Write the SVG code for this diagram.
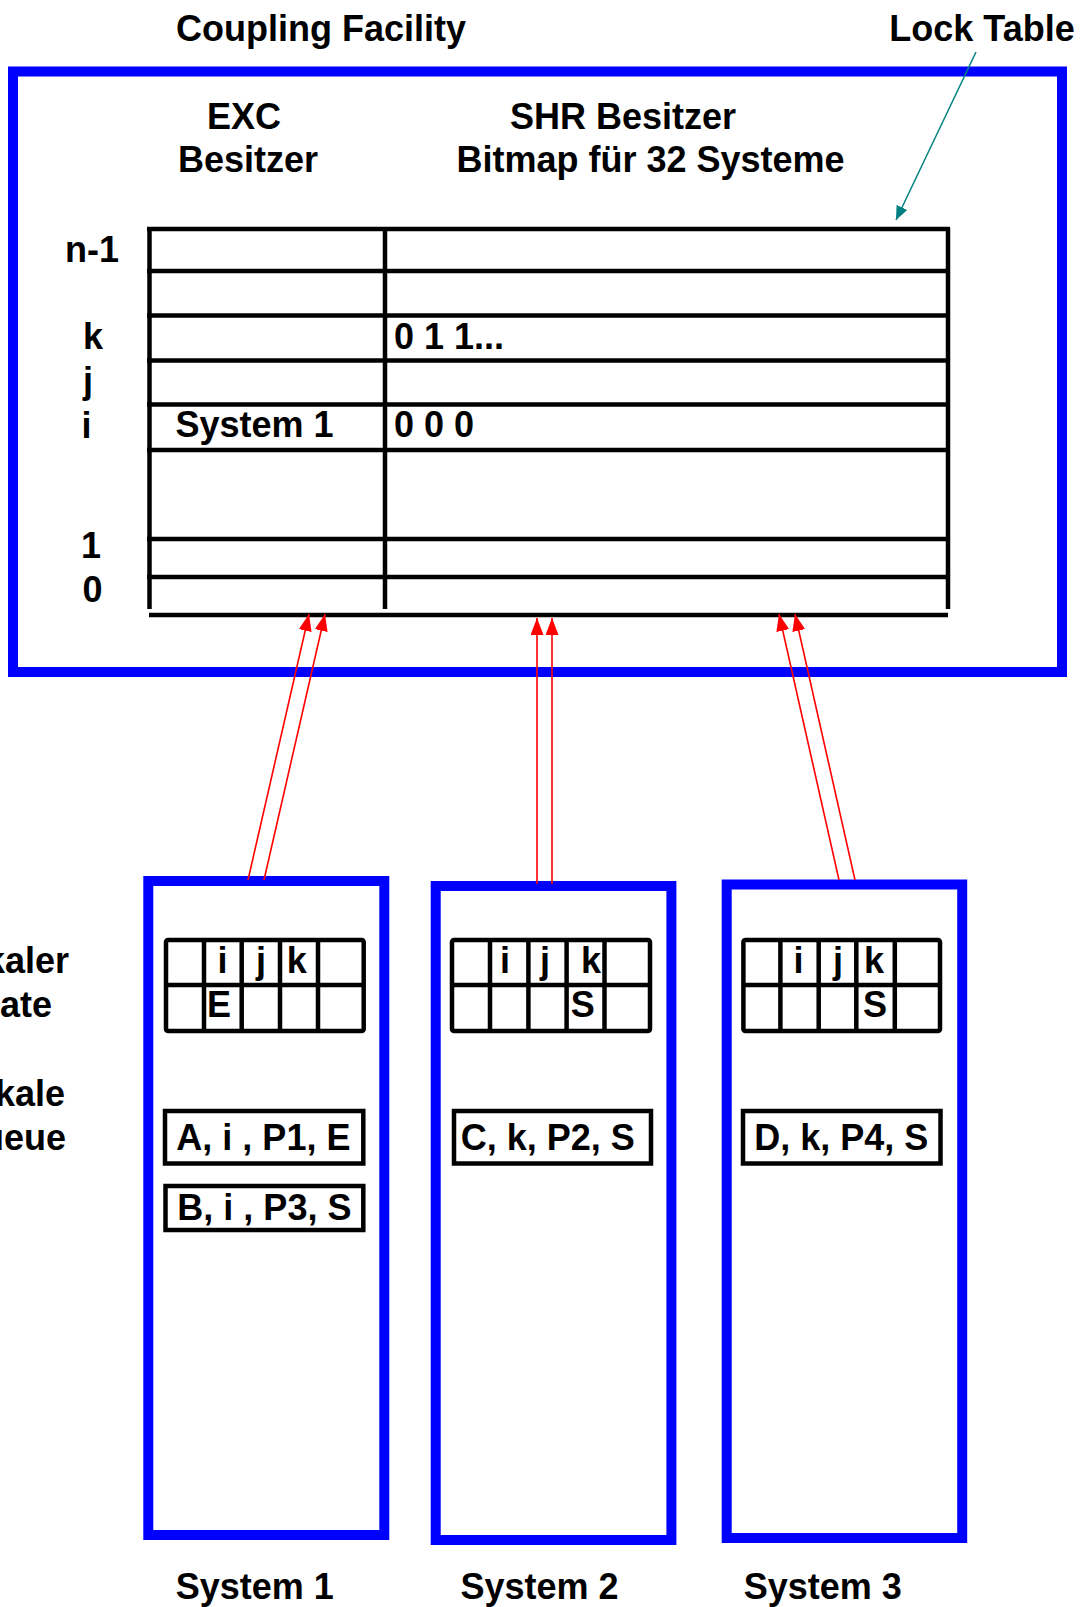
<svg xmlns="http://www.w3.org/2000/svg" width="1085" height="1607" viewBox="0 0 1085 1607">
<style>
text{font-family:"Liberation Sans",Arial,sans-serif;font-weight:bold;font-size:36px;fill:#000}
.m{text-anchor:middle}
.e{text-anchor:end}
.blue{fill:none;stroke:#0000ff;stroke-width:10}
.tl{stroke:#000;stroke-width:4.5;fill:none}
.red{stroke:#ff0000;stroke-width:1.6;fill:none}
.teal{stroke:#008080;stroke-width:1.5;fill:none}
</style>
<defs>
<marker id="ar" markerUnits="userSpaceOnUse" markerWidth="17" markerHeight="13" refX="17" refY="6.5" orient="auto"><path d="M0,0 L17,6.5 L0,13 z" fill="#ff0000"/></marker>
<marker id="at" markerUnits="userSpaceOnUse" markerWidth="14" markerHeight="12" refX="14" refY="6" orient="auto"><path d="M0,0 L14,6 L0,12 z" fill="#008080"/></marker>
</defs>
<g id="titles">
<text class="m" x="321" y="41">Coupling Facility</text>
<text class="m" x="982" y="41">Lock Table</text>
</g>
<g id="coupling-facility">
<rect class="blue" x="13" y="71.5" width="1049" height="600.5"/>
<text class="m" x="244" y="129">EXC</text>
<text class="m" x="248" y="172">Besitzer</text>
<text class="m" x="623" y="129">SHR Besitzer</text>
<text class="m" x="650.5" y="172">Bitmap für 32 Systeme</text>
</g>
<g id="lock-table">
<line class="tl" x1="149.5" y1="227" x2="149.5" y2="609"/>
<line class="tl" x1="385" y1="228" x2="385" y2="609"/>
<line class="tl" x1="948" y1="228" x2="948" y2="609"/>
<line class="tl" x1="147" y1="229" x2="950" y2="229"/>
<line class="tl" x1="147" y1="271" x2="950" y2="271"/>
<line class="tl" x1="147" y1="315.5" x2="950" y2="315.5"/>
<line class="tl" x1="147" y1="360.5" x2="950" y2="360.5"/>
<line class="tl" x1="147" y1="404.5" x2="950" y2="404.5"/>
<line class="tl" x1="147" y1="450" x2="950" y2="450"/>
<line class="tl" x1="147" y1="539" x2="950" y2="539"/>
<line class="tl" x1="147" y1="577" x2="950" y2="577"/>
<line class="tl" x1="149" y1="615" x2="948" y2="615"/>
<text class="m" x="92" y="262">n-1</text>
<text class="m" x="93" y="349">k</text>
<text class="m" x="88" y="393">j</text>
<text class="m" x="86.5" y="438">i</text>
<text class="m" x="91" y="558">1</text>
<text class="m" x="92.5" y="602">0</text>
<text x="175.5" y="437">System 1</text>
<text x="394" y="349">0 1 1...</text>
<text x="394" y="437">0 0 0</text>
</g>
<g id="side-labels">
<text class="e" x="69" y="973">kaler</text>
<text class="e" x="52" y="1017">ate</text>
<text class="e" x="65" y="1106">kale</text>
<text class="e" x="66" y="1150">ueue</text>
</g>
<g id="system1">
<rect class="blue" x="148.3" y="881" width="236" height="654"/>
<rect class="tl" x="166" y="940" width="197.7" height="91" rx="2"/>
<line class="tl" x1="166" y1="985" x2="363.7" y2="985"/>
<line class="tl" x1="204" y1="940" x2="204" y2="1031"/>
<line class="tl" x1="241.7" y1="940" x2="241.7" y2="1031"/>
<line class="tl" x1="280" y1="940" x2="280" y2="1031"/>
<line class="tl" x1="318" y1="940" x2="318" y2="1031"/>
<text class="m" x="222.5" y="973">i</text>
<text class="m" x="261" y="973">j</text>
<text class="m" x="296.7" y="973">k</text>
<text class="m" x="219" y="1017">E</text>
<rect class="tl" x="165" y="1111" width="198.3" height="52.5"/>
<text class="m" x="263.4" y="1150">A, i , P1, E</text>
<rect class="tl" x="165.5" y="1186" width="197.8" height="44"/>
<text class="m" x="264.4" y="1220">B, i , P3, S</text>
<text class="m" x="254.7" y="1599">System 1</text>
</g>
<g id="system2">
<rect class="blue" x="435.7" y="886" width="235.7" height="654"/>
<rect class="tl" x="452" y="940" width="198" height="91" rx="2"/>
<line class="tl" x1="452" y1="985" x2="650" y2="985"/>
<line class="tl" x1="490" y1="940" x2="490" y2="1031"/>
<line class="tl" x1="528.4" y1="940" x2="528.4" y2="1031"/>
<line class="tl" x1="566.6" y1="940" x2="566.6" y2="1031"/>
<line class="tl" x1="604.5" y1="940" x2="604.5" y2="1031"/>
<text class="m" x="505" y="973">i</text>
<text class="m" x="545" y="973">j</text>
<text class="m" x="591" y="973">k</text>
<text class="m" x="582.7" y="1017">S</text>
<rect class="tl" x="454" y="1111" width="197" height="52.5"/>
<text class="m" x="547.7" y="1150">C, k, P2, S</text>
<text class="m" x="539.5" y="1599">System 2</text>
</g>
<g id="system3">
<rect class="blue" x="726.7" y="884.5" width="235.5" height="653.5"/>
<rect class="tl" x="743.4" y="940" width="196.6" height="91" rx="2"/>
<line class="tl" x1="743.4" y1="985" x2="940" y2="985"/>
<line class="tl" x1="780.4" y1="940" x2="780.4" y2="1031"/>
<line class="tl" x1="818.7" y1="940" x2="818.7" y2="1031"/>
<line class="tl" x1="856.3" y1="940" x2="856.3" y2="1031"/>
<line class="tl" x1="894.8" y1="940" x2="894.8" y2="1031"/>
<text class="m" x="798.6" y="973">i</text>
<text class="m" x="838" y="973">j</text>
<text class="m" x="874" y="973">k</text>
<text class="m" x="875" y="1017">S</text>
<rect class="tl" x="743" y="1111" width="197.5" height="52.5"/>
<text class="m" x="841.3" y="1150">D, k, P4, S</text>
<text class="m" x="822.8" y="1599">System 3</text>
</g>
<g id="connectors">
<line class="teal" x1="976" y1="52" x2="896" y2="220" marker-end="url(#at)"/>
<line class="red" x1="248" y1="880" x2="309" y2="614" marker-end="url(#ar)"/>
<line class="red" x1="264" y1="880" x2="325" y2="614" marker-end="url(#ar)"/>
<line class="red" x1="537" y1="884" x2="537" y2="618" marker-end="url(#ar)"/>
<line class="red" x1="552" y1="884" x2="552" y2="618" marker-end="url(#ar)"/>
<line class="red" x1="839" y1="880" x2="779" y2="614" marker-end="url(#ar)"/>
<line class="red" x1="855" y1="880" x2="795" y2="614" marker-end="url(#ar)"/>
</g>
</svg>
